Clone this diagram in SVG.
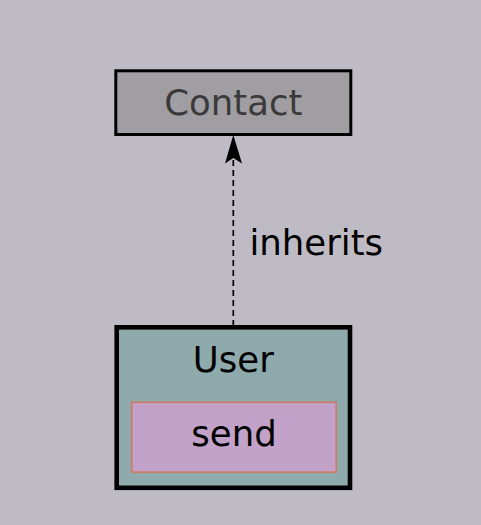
<svg xmlns="http://www.w3.org/2000/svg" width="481" height="525" viewBox="0 0 481 525">
<style>
text{font-family:"DejaVu Sans",sans-serif;font-size:35.5px}
</style>
<rect width="481" height="525" fill="#bfbbc5"/>
<g id="connectors">
<line x1="233.3" y1="326" x2="233.3" y2="140" stroke="#000" stroke-width="1.7" stroke-dasharray="6,4"/>
<path d="M233.3,135 L242,163.5 L233.3,158 L225,163.5 Z" fill="#000"/>
<text x="249.5" y="255" fill="#000">inherits</text>
</g>
<g id="contact">
<rect x="115.8" y="70.8" width="235" height="63.7" fill="#a09ea3" stroke="#000" stroke-width="3"/>
<text x="233.3" y="115" text-anchor="middle" fill="#3a3a3a">Contact</text>
</g>
<g id="user">
<rect x="116.7" y="327.3" width="233.3" height="160.5" fill="#8eaaad" stroke="#000" stroke-width="4.6"/>
<text x="233.3" y="372" text-anchor="middle" fill="#000">User</text>
<g id="send">
<rect x="131.7" y="402.3" width="204.5" height="69.8" fill="#c2a2c8" stroke="#d4775e" stroke-width="1.5"/>
<text x="234" y="446" text-anchor="middle" fill="#000">send</text>
</g>
</g>
</svg>
